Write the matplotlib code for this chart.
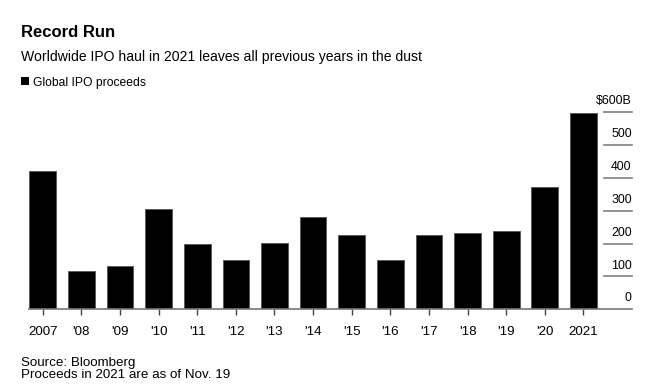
import matplotlib
matplotlib.use("Agg")
import matplotlib.pyplot as plt
import matplotlib.transforms as mtransforms
from matplotlib.patches import Rectangle

years = ["2007", "'08", "'09", "'10", "'11", "'12", "'13", "'14", "'15", "'16",
         "'17", "'18", "'19", "'20", "2021"]
proceeds = [421, 116, 131, 305, 199, 149, 202, 280, 225, 149, 227, 233, 239, 372, 598]
yticks = [0, 100, 200, 300, 400, 500, 600]
ytick_labels = ["0", "100", "200", "300", "400", "500", "$600B"]

FONT = ["Liberation Sans", "DejaVu Sans"]
plt.rcParams['font.family'] = FONT

W, H = 658, 387
fig = plt.figure(figsize=(W / 100, H / 100), dpi=100)

left, right = 29 / W, 631.7 / W
bottom, top = 1 - 309.3 / H, 1 - 112.3 / H
ax = fig.add_axes([left, bottom, right - left, top - bottom])

x = list(range(len(years)))
ax.bar(x, proceeds, width=0.69, color="black", edgecolor="#555555", linewidth=0.6, zorder=3)

ax.set_xlim(-0.357, 15.25)
ax.set_ylim(0, 600)

for s in ["top", "right", "left"]:
    ax.spines[s].set_visible(False)
ax.spines["bottom"].set_color("#777777")
ax.spines["bottom"].set_linewidth(1.2)
ax.spines["bottom"].set_zorder(4)

ax.set_xticks(x)
ax.set_xticklabels(years, fontsize=9.6, color="black")
ax.tick_params(axis="x", length=4, width=1, color="#444444", pad=8)
ax.set_yticks([])

ytr = ax.get_yaxis_transform()
for v, lab in zip(yticks, ytick_labels):
    if v > 0:
        ax.plot([0.954, 1.0], [v, v], transform=ytr, color="#808080", lw=1.2, clip_on=False, zorder=2)
    off = mtransforms.offset_copy(ytr, fig=fig, x=0, y=3.5, units="points")
    ax.text(1.0, v, lab, transform=off, ha="right", va="bottom", fontsize=8.9, color="black")

fig.text(20.7 / W, 1 - 37.3 / H, "Record Run", fontsize=12, fontweight="bold",
         va="baseline", ha="left")
fig.text(20.7 / W, 1 - 61 / H, "Worldwide IPO haul in 2021 leaves all previous years in the dust",
         fontsize=10.1, va="baseline", ha="left")
fig.patches.append(Rectangle((21.3 / W, 1 - 85.3 / H), 7.6 / W, 8 / H, transform=fig.transFigure,
                             facecolor="black", edgecolor="none"))
fig.text(33.3 / W, 1 - 86 / H, "Global IPO proceeds", fontsize=8.7, va="baseline", ha="left")
fig.text(20.7 / W, 1 - 366 / H, "Source: Bloomberg", fontsize=9.6, va="baseline", ha="left")
fig.text(20.7 / W, 1 - 377.7 / H, "Proceeds in 2021 are as of Nov. 19", fontsize=9.6, va="baseline", ha="left")

fig.savefig("out.png", dpi=100, facecolor="white")
